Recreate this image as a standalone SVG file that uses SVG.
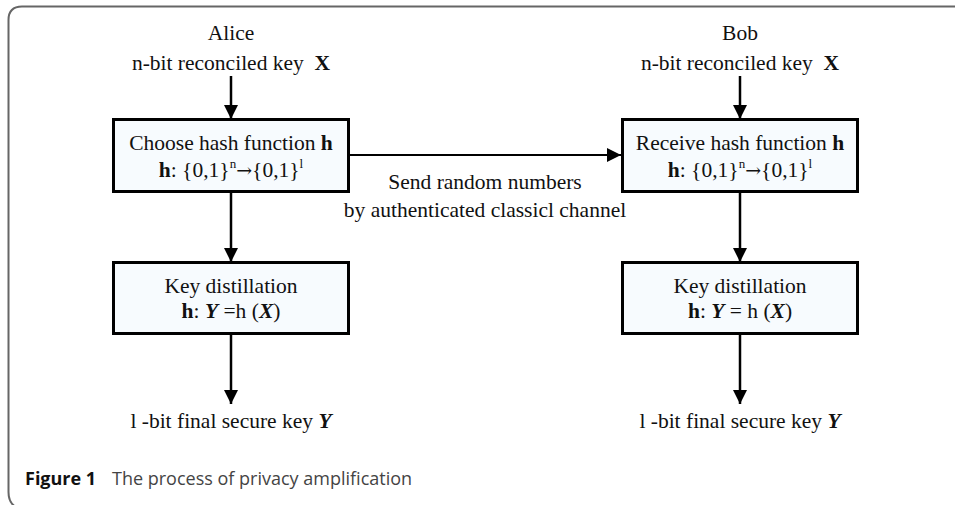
<svg xmlns="http://www.w3.org/2000/svg" width="955" height="505" viewBox="0 0 955 505">
<style>
.t{font-family:"Liberation Serif","Times New Roman",serif;font-size:21.5px;fill:#111;text-anchor:middle}
.b{font-weight:bold}
.i{font-style:italic;font-weight:bold}
.ar{font-family:"DejaVu Serif",serif;font-size:19px}
.box{fill:#f7fbfe;stroke:#000;stroke-width:3}
.ln{stroke:#000;stroke-width:2.5;fill:none}
.ln2{stroke:#000;stroke-width:1.8;fill:none}
.cap{font-family:"Open Sans","Noto Sans",sans-serif;font-size:18px;fill:#444}
</style>
<defs>
<marker id="av" viewBox="0 0 14 14" refX="14" refY="7" markerWidth="14" markerHeight="14" orient="auto" markerUnits="userSpaceOnUse">
<path d="M0,0 L14,7 L0,14 z" fill="#000"/>
</marker>
</defs>
<path d="M955 6.5 H22 Q8.5 6.5 8.5 20 V492 Q8.5 503 16 507" fill="none" stroke="#666" stroke-width="2"/>
<g id="connectors">
<line class="ln" x1="231" y1="76" x2="231" y2="119" marker-end="url(#av)"/>
<line class="ln" x1="740" y1="76" x2="740" y2="119" marker-end="url(#av)"/>
<line class="ln2" x1="349" y1="155" x2="621" y2="155" marker-end="url(#av)"/>
<line class="ln" x1="231" y1="193" x2="231" y2="262" marker-end="url(#av)"/>
<line class="ln" x1="740" y1="193" x2="740" y2="262" marker-end="url(#av)"/>
<line class="ln" x1="231" y1="334" x2="231" y2="404" marker-end="url(#av)"/>
<line class="ln" x1="740" y1="334" x2="740" y2="404" marker-end="url(#av)"/>
</g>
<g id="alice-label">
<text class="t" x="231" y="40">Alice</text>
<text class="t" x="231" y="70" xml:space="preserve">n-bit reconciled key  <tspan class="b">X</tspan></text>
</g>
<g id="bob-label">
<text class="t" x="740" y="40">Bob</text>
<text class="t" x="740" y="70" xml:space="preserve">n-bit reconciled key  <tspan class="b">X</tspan></text>
</g>
<g id="alice-hash">
<rect class="box" x="113.5" y="119.5" width="235" height="72"/>
<text class="t" x="231" y="150">Choose hash function <tspan class="b">h</tspan></text>
<text class="t" x="231" y="177"><tspan class="b">h</tspan>: {0,1}<tspan font-size="13" dy="-9">n</tspan><tspan class="ar" dy="9">→</tspan><tspan>{0,1}</tspan><tspan font-size="13" dy="-9">l</tspan></text>
</g>
<g id="bob-hash">
<rect class="box" x="622.5" y="119.5" width="235" height="72"/>
<text class="t" x="740" y="150">Receive hash function <tspan class="b">h</tspan></text>
<text class="t" x="740" y="177"><tspan class="b">h</tspan>: {0,1}<tspan font-size="13" dy="-9">n</tspan><tspan class="ar" dy="9">→</tspan><tspan>{0,1}</tspan><tspan font-size="13" dy="-9">l</tspan></text>
</g>
<g id="channel-label">
<text class="t" x="485" y="189">Send random numbers</text>
<text class="t" x="485" y="217">by authenticated classicl channel</text>
</g>
<g id="alice-distill">
<rect class="box" x="113.5" y="262.5" width="235" height="71"/>
<text class="t" x="231" y="293">Key distillation</text>
<text class="t" x="231" y="318"><tspan class="b">h</tspan>: <tspan class="i">Y</tspan> =h (<tspan class="i">X</tspan>)</text>
</g>
<g id="bob-distill">
<rect class="box" x="622.5" y="262.5" width="235" height="71"/>
<text class="t" x="740" y="293">Key distillation</text>
<text class="t" x="740" y="318"><tspan class="b">h</tspan>: <tspan class="i">Y</tspan> = h (<tspan class="i">X</tspan>)</text>
</g>
<g id="alice-out">
<text class="t" x="231" y="428">l -bit final secure key <tspan class="i">Y</tspan></text>
</g>
<g id="bob-out">
<text class="t" x="740" y="428">l -bit final secure key <tspan class="i">Y</tspan></text>
</g>
<g id="caption">
<text class="cap" x="25" y="485"><tspan font-weight="bold" fill="#111">Figure 1</tspan><tspan x="112">The process of privacy amplification</tspan></text>
</g>
</svg>
